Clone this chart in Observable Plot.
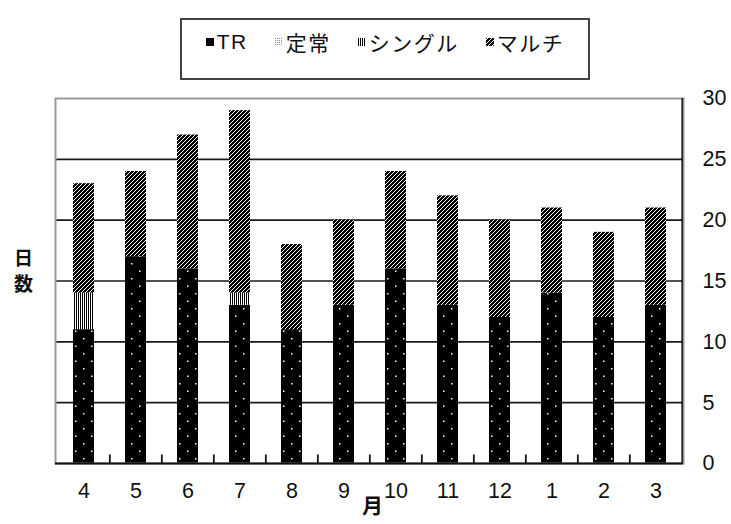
<!DOCTYPE html>
<html><head><meta charset="utf-8">
<script src="https://cdn.jsdelivr.net/npm/d3@7"></script>
<script src="https://cdn.jsdelivr.net/npm/@observablehq/plot@0.6"></script>
<style>
body{margin:0;background:#fff;width:731px;height:524px;overflow:hidden;position:relative;font-family:"Noto Sans CJK JP",sans-serif;}
#legend{position:absolute;left:180px;top:18px;width:406px;border:2px solid #444;display:flex;justify-content:center;align-items:center;gap:27px;padding-bottom:15px;height:43px;box-sizing:content-box;}
.item{display:flex;align-items:center;font-size:21px;letter-spacing:1.5px;color:#111;font-family:'Liberation Sans','Noto Sans CJK JP',sans-serif;}
.item svg{margin-right:3px;}
#chart{position:absolute;left:0;top:80px;}
</style></head>
<body>
<div id="legend"></div>
<div id="chart"></div>
<script>
const months = ["4","5","6","7","8","9","10","11","12","1","2","3"];
const series = ["TR","定常","シングル","マルチ"];
const tr     = [11,17,16,13,11,13,16,13,12,14,12,13];
const teijo  = [0,0,0,0,0,0,0,0,0,0,0,0];
const single = [3,0,0,1,0,0,0,0,0,0,0,0];
const multi  = [9,7,11,15,7,7,8,9,8,7,7,8];
const yTicks = [0,5,10,15,20,25,30];
const gridTicks = [5,10,15,20,25];

const ids = ["p-tr","p-teijo","p-single","p-multi"];
const values = [tr, teijo, single, multi];
const data = series.flatMap((s, si) => months.map((m, mi) => ({month: m, series: s, value: values[si][mi], fill: `url(#${ids[si]})`})));

const defs = `
<pattern id="p-tr" patternUnits="userSpaceOnUse" width="16" height="15">
  <rect width="16" height="15" fill="#000"/>
  <rect x="3" y="3" width="1.5" height="1.5" fill="#fff"/>
  <rect x="11" y="10.5" width="1.5" height="1.5" fill="#fff"/>
</pattern>
<pattern id="p-teijo" patternUnits="userSpaceOnUse" width="2" height="2">
  <rect width="2" height="2" fill="#fff"/>
  <rect width="1" height="1" fill="#888"/>
</pattern>
<pattern id="p-single" patternUnits="userSpaceOnUse" width="2" height="2">
  <rect width="2" height="2" fill="#fff"/>
  <rect width="1" height="2" fill="#000"/>
</pattern>
<pattern id="p-multi" patternUnits="userSpaceOnUse" width="4" height="4">
  <rect width="4" height="4" fill="#fff"/>
  <path d="M-1,1 l2,-2 M0,4 l4,-4 M3,5 l2,-2" stroke="#000" stroke-width="2" shape-rendering="crispEdges"/>
</pattern>`;

const step = (731 - 55 - 48) / months.length;

const chart = Plot.plot({
  width: 731, height: 444,
  marginTop: 18, marginBottom: 61, marginLeft: 55, marginRight: 48,
  style: {fontFamily: "'Liberation Sans', Arial, sans-serif", fontSize: "21px", background: "white", color: "#111"},
  x: {domain: months, paddingInner: 0.6, paddingOuter: 0.3, label: null},
  y: {domain: [0, 30], label: null},
  color: {type: "identity"},
  marks: [
    Plot.ruleY(gridTicks, {stroke: "#1a1a1a", strokeWidth: 1.6}),
    Plot.barY(data, Plot.stackY({x: "month", y: "value", z: "series", fill: "fill", order: series})),
    Plot.frame({stroke: "#999", strokeWidth: 2}),
    Plot.ruleY([0], {stroke: "#111", strokeWidth: 2}),
    Plot.ruleX([months[months.length - 1]], {x: d => d, dx: step / 2, y1: 0, y2: 30, stroke: "#111", strokeWidth: 1.5}),
    Plot.ruleX(months.slice(1), {x: d => d, dx: -step / 2, y1: 0, y2: 0.7, stroke: "#111", strokeWidth: 1.8}),
    Plot.axisX({tickSize: 0, tickPadding: 19, fontSize: 21.5, label: null}),
    Plot.axisY({anchor: "right", ticks: yTicks, tickSize: 0, tickPadding: 19, textAnchor: "start", fontSize: 21.5, label: null}),
    Plot.text(["月"], {frameAnchor: "bottom", dy: 49, dx: 3, fontWeight: "bold", fontSize: 21, fontFamily: "'Noto Sans CJK JP'"}),
    Plot.text(["日"], {frameAnchor: "left", textAnchor: "middle", dx: -32, dy: -22, fontWeight: "bold", fontSize: 19, fontFamily: "'Noto Sans CJK JP'"}),
    Plot.text(["数"], {frameAnchor: "left", textAnchor: "middle", dx: -32, dy: 4, fontWeight: "bold", fontSize: 19, fontFamily: "'Noto Sans CJK JP'"})
  ]
});
const defsEl = document.createElementNS("http://www.w3.org/2000/svg", "defs");
defsEl.innerHTML = defs;
chart.insertBefore(defsEl, chart.firstChild);
document.getElementById("chart").appendChild(chart);

// legend
const legend = d3.select("#legend");
series.forEach((s, i) => {
  const item = legend.append("div").attr("class", "item");
  const sw = item.append("svg").attr("width", 8).attr("height", 8);
  sw.append("rect").attr("width", 8).attr("height", 8).attr("fill", i === 0 ? "#000" : `url(#${ids[i]})`);
  item.append("span").text(s);
});
</script>
</body></html>
